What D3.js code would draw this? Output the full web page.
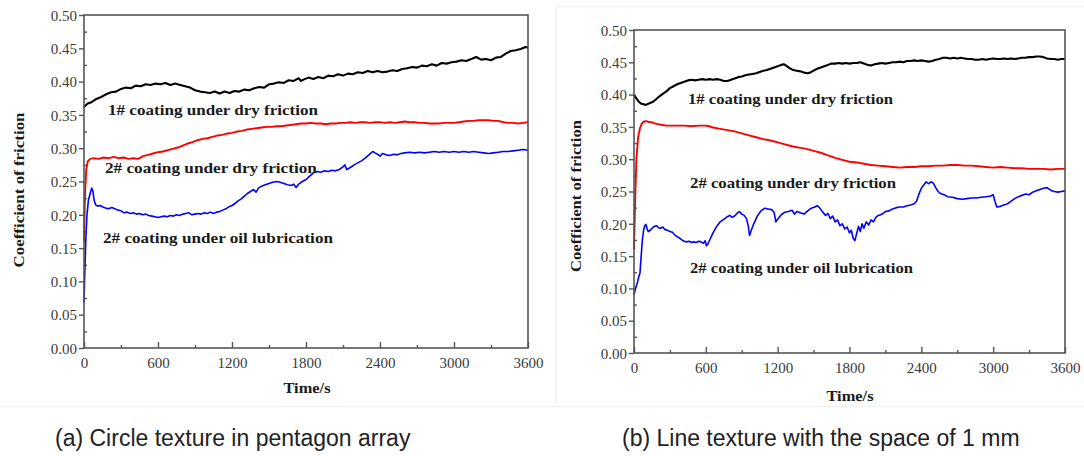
<!DOCTYPE html>
<html>
<head>
<meta charset="utf-8">
<script src="https://cdn.jsdelivr.net/npm/d3@7/dist/d3.min.js"></script>
<style>
  body { margin: 0; background: #fff; }
  svg { display: block; }
  .note { font-family: "Liberation Serif", "Times New Roman", serif; font-weight: bold; fill: #1a1a1a; }
  .caption { font-family: "Liberation Sans", Arial, sans-serif; fill: #222; }
</style>
</head>
<body>
<svg width="1084" height="456"></svg>
<script>
// axis ticks (shared by both panels)
const timeTicks = [0, 600, 1200, 1800, 2400, 3000, 3600];
const timeMinor = [300, 900, 1500, 2100, 2700, 3300];
const cofTicks = [0, 0.05, 0.10, 0.15, 0.20, 0.25, 0.30, 0.35, 0.40, 0.45, 0.50];
const cofMinor = [0.025, 0.075, 0.125, 0.175, 0.225, 0.275, 0.325, 0.375, 0.425, 0.475];

const noteLabels = ["1# coating under dry friction", "2# coating under dry friction", "2# coating under oil lubrication"];
const captions = ["(a) Circle texture in pentagon array", "(b) Line texture with the space of 1 mm"];

// (a) circle texture in pentagon array  -- [time s, coefficient]
const circleDry1 = [[0,.362],[30,.367],[60,.369],[100,.374],[140,.377],[180,.381],[220,.384],[260,.385],[300,.389],[340,.391],[380,.390],[420,.394],[460,.393],[500,.396],[540,.395],[580,.397],[620,.396],[660,.398],[700,.395],[740,.397],[780,.395],[820,.393],[860,.391],[900,.387],[940,.385],[980,.384],[1020,.383],[1060,.385],[1100,.382],[1140,.385],[1180,.383],[1220,.386],[1260,.385],[1300,.388],[1340,.387],[1380,.390],[1420,.392],[1460,.391],[1500,.396],[1540,.397],[1580,.399],[1620,.398],[1660,.402],[1700,.401],[1740,.405],[1760,.401],[1780,.403],[1820,.406],[1860,.404],[1900,.407],[1940,.405],[1980,.409],[2020,.408],[2060,.411],[2100,.409],[2140,.412],[2180,.411],[2220,.414],[2260,.413],[2300,.416],[2340,.414],[2380,.416],[2420,.414],[2460,.415],[2500,.417],[2540,.416],[2580,.419],[2620,.420],[2660,.422],[2700,.421],[2740,.424],[2780,.423],[2820,.426],[2860,.424],[2900,.428],[2940,.427],[2980,.429],[3020,.430],[3060,.432],[3100,.431],[3140,.434],[3180,.437],[3220,.433],[3260,.434],[3300,.432],[3340,.436],[3380,.437],[3420,.442],[3460,.446],[3500,.447],[3540,.449],[3580,.452],[3600,.451]];
const circleDry2 = [[0,.160],[8,.230],[18,.268],[30,.280],[50,.284],[80,.285],[120,.284],[160,.286],[200,.285],[240,.287],[280,.285],[320,.286],[360,.284],[400,.285],[440,.284],[480,.288],[520,.290],[560,.292],[600,.294],[640,.295],[680,.297],[720,.299],[760,.301],[800,.304],[840,.307],[880,.309],[920,.312],[960,.314],[1000,.315],[1040,.317],[1080,.319],[1120,.320],[1160,.322],[1200,.323],[1240,.325],[1280,.326],[1320,.328],[1360,.329],[1400,.330],[1440,.331],[1480,.332],[1520,.332],[1560,.333],[1600,.333],[1640,.334],[1680,.335],[1720,.336],[1760,.337],[1800,.337],[1840,.338],[1880,.337],[1920,.337],[1960,.336],[2000,.337],[2040,.337],[2080,.338],[2120,.338],[2160,.339],[2200,.338],[2240,.339],[2280,.339],[2320,.338],[2360,.339],[2400,.339],[2440,.338],[2480,.339],[2520,.338],[2560,.339],[2600,.340],[2640,.339],[2680,.339],[2720,.338],[2760,.338],[2800,.337],[2840,.337],[2880,.337],[2920,.338],[2960,.338],[3000,.338],[3040,.339],[3080,.340],[3120,.341],[3160,.341],[3200,.342],[3240,.342],[3280,.342],[3320,.341],[3360,.341],[3400,.339],[3440,.338],[3480,.338],[3520,.337],[3560,.338],[3600,.339]];
const circleOil2 = [[0,.068],[6,.110],[14,.160],[24,.200],[36,.222],[50,.232],[62,.240],[72,.236],[82,.222],[95,.215],[110,.213],[130,.214],[150,.212],[175,.210],[200,.209],[225,.211],[250,.209],[275,.207],[300,.206],[325,.203],[350,.204],[375,.202],[400,.203],[425,.201],[450,.202],[475,.200],[500,.201],[525,.199],[550,.198],[575,.197],[600,.196],[625,.197],[650,.198],[675,.197],[700,.199],[725,.198],[750,.200],[775,.199],[800,.201],[825,.202],[850,.203],[875,.200],[900,.201],[925,.202],[950,.201],[975,.203],[1000,.202],[1025,.204],[1050,.202],[1075,.204],[1100,.205],[1125,.207],[1150,.209],[1175,.212],[1200,.214],[1225,.217],[1250,.221],[1275,.224],[1300,.228],[1325,.232],[1350,.235],[1375,.238],[1395,.234],[1415,.240],[1440,.243],[1470,.245],[1500,.247],[1530,.249],[1560,.250],[1590,.249],[1620,.247],[1650,.245],[1680,.244],[1700,.246],[1720,.241],[1740,.246],[1770,.250],[1800,.253],[1830,.258],[1860,.263],[1890,.265],[1920,.264],[1950,.266],[1980,.265],[2010,.267],[2040,.266],[2070,.268],[2100,.272],[2115,.275],[2130,.268],[2160,.271],[2190,.275],[2220,.278],[2250,.281],[2280,.285],[2310,.290],[2340,.295],[2360,.293],[2380,.291],[2400,.288],[2420,.292],[2450,.290],[2480,.289],[2510,.291],[2540,.290],[2570,.292],[2600,.293],[2640,.294],[2680,.293],[2720,.294],[2760,.293],[2800,.294],[2840,.295],[2880,.294],[2920,.295],[2960,.294],[3000,.295],[3040,.294],[3080,.295],[3120,.294],[3160,.295],[3200,.294],[3240,.293],[3280,.292],[3320,.293],[3360,.294],[3400,.295],[3440,.295],[3480,.296],[3520,.297],[3560,.298],[3600,.297]];

// (b) line texture, 1 mm spacing
const lineDry1 = [[0,.400],[20,.394],[40,.389],[60,.386],[80,.385],[100,.384],[120,.386],[150,.388],[180,.392],[210,.397],[240,.401],[270,.405],[300,.410],[330,.413],[360,.416],[390,.418],[420,.420],[450,.422],[480,.423],[510,.422],[540,.423],[570,.424],[600,.423],[630,.424],[660,.423],[690,.424],[720,.423],[750,.421],[780,.421],[810,.423],[840,.425],[870,.427],[900,.428],[930,.430],[960,.431],[990,.432],[1020,.433],[1050,.435],[1080,.437],[1110,.438],[1140,.440],[1170,.442],[1200,.444],[1230,.446],[1250,.447],[1270,.445],[1300,.441],[1330,.438],[1360,.437],[1390,.436],[1420,.434],[1450,.433],[1470,.434],[1500,.437],[1530,.440],[1560,.442],[1590,.444],[1620,.446],[1650,.448],[1680,.448],[1710,.449],[1740,.448],[1770,.449],[1800,.448],[1830,.449],[1860,.449],[1890,.450],[1920,.448],[1950,.446],[1980,.445],[2010,.447],[2040,.448],[2070,.449],[2100,.448],[2130,.449],[2160,.450],[2190,.450],[2220,.451],[2250,.450],[2280,.452],[2310,.452],[2340,.453],[2370,.452],[2400,.453],[2430,.452],[2460,.451],[2490,.452],[2520,.454],[2550,.455],[2580,.457],[2610,.457],[2640,.456],[2670,.457],[2700,.456],[2730,.457],[2760,.456],[2790,.455],[2820,.455],[2850,.454],[2880,.454],[2910,.455],[2940,.454],[2970,.455],[3000,.456],[3030,.455],[3060,.455],[3090,.456],[3120,.455],[3150,.456],[3180,.455],[3210,.456],[3240,.457],[3270,.457],[3300,.458],[3330,.458],[3360,.459],[3390,.459],[3420,.458],[3450,.456],[3480,.455],[3510,.455],[3540,.454],[3570,.455],[3600,.455]];
const lineDry2 = [[0,.160],[10,.240],[20,.300],[35,.335],[50,.348],[65,.355],[80,.358],[100,.359],[120,.358],[150,.357],[180,.355],[210,.354],[240,.353],[270,.352],[300,.352],[360,.352],[420,.352],[480,.351],[540,.352],[600,.352],[630,.351],[660,.349],[720,.347],[780,.345],[840,.343],[900,.340],[960,.337],[1020,.334],[1080,.331],[1140,.329],[1200,.326],[1260,.323],[1320,.320],[1380,.318],[1440,.316],[1500,.313],[1560,.310],[1620,.306],[1680,.302],[1740,.299],[1800,.296],[1860,.295],[1920,.293],[1980,.291],[2040,.290],[2100,.289],[2160,.288],[2220,.287],[2280,.288],[2340,.288],[2400,.289],[2460,.289],[2520,.290],[2580,.290],[2640,.291],[2700,.291],[2760,.290],[2820,.290],[2880,.289],[2940,.288],[3000,.287],[3060,.288],[3120,.287],[3180,.286],[3240,.286],[3300,.285],[3360,.285],[3420,.285],[3480,.284],[3540,.285],[3600,.285]];
const lineOil2 = [[0,.090],[10,.098],[20,.104],[30,.110],[40,.118],[50,.124],[60,.150],[70,.175],[80,.190],[90,.197],[100,.199],[110,.192],[120,.188],[135,.190],[150,.193],[170,.196],[190,.197],[205,.194],[220,.193],[240,.195],[260,.191],[280,.190],[300,.188],[320,.187],[340,.183],[360,.180],[380,.178],[400,.175],[420,.173],[440,.172],[460,.173],[480,.171],[500,.172],[520,.171],[540,.173],[560,.172],[580,.170],[595,.174],[605,.166],[615,.168],[640,.178],[660,.186],[690,.196],[720,.203],[750,.207],[780,.211],[800,.213],[820,.210],[840,.212],[860,.216],[880,.219],[900,.215],[920,.213],[940,.208],[955,.196],[965,.182],[980,.190],[1000,.200],[1030,.212],[1060,.220],[1090,.224],[1120,.223],[1150,.222],[1170,.218],[1185,.203],[1200,.207],[1230,.214],[1260,.218],[1290,.219],[1320,.221],[1340,.215],[1360,.219],[1390,.217],[1420,.215],[1450,.220],[1480,.224],[1510,.226],[1530,.228],[1550,.225],[1570,.220],[1600,.213],[1620,.216],[1640,.208],[1660,.212],[1680,.203],[1700,.206],[1720,.197],[1740,.200],[1760,.192],[1780,.195],[1800,.186],[1815,.190],[1830,.178],[1845,.174],[1860,.185],[1875,.196],[1890,.188],[1905,.200],[1920,.193],[1940,.203],[1960,.198],[1980,.206],[2000,.203],[2020,.210],[2040,.213],[2060,.214],[2080,.216],[2100,.219],[2130,.220],[2160,.223],[2190,.225],[2220,.226],[2250,.226],[2280,.228],[2310,.229],[2340,.231],[2360,.235],[2380,.246],[2400,.255],[2420,.260],[2440,.265],[2460,.262],[2480,.265],[2500,.263],[2520,.256],[2540,.250],[2560,.247],[2590,.245],[2620,.242],[2660,.241],[2700,.239],[2740,.238],[2780,.239],[2820,.240],[2860,.240],[2900,.241],[2940,.242],[2980,.243],[3000,.245],[3015,.235],[3030,.226],[3060,.227],[3090,.229],[3120,.231],[3150,.235],[3180,.239],[3210,.242],[3240,.244],[3270,.246],[3300,.245],[3330,.249],[3360,.251],[3390,.253],[3420,.255],[3450,.256],[3480,.252],[3510,.250],[3540,.249],[3570,.250],[3600,.251]];

const colors = ["#000000", "#ff0000", "#0000ff"];
const widths = [2.1, 1.9, 1.6];
const serif = '"Liberation Serif", "Times New Roman", serif';

let svg = d3.select("svg");
svg.append("rect").attr("width", 1084).attr("height", 456).attr("fill", "#fff");

// faint frame left over from the source figure
svg.append("line").attr("x1", 0).attr("x2", 1084).attr("y1", 406.5).attr("y2", 406.5)
    .attr("stroke", "#f2f2f2").attr("stroke-width", 1.5);
svg.append("path").attr("d", "M556,406 V6.5 H1084")
    .attr("fill", "none").attr("stroke", "#f2f2f2").attr("stroke-width", 1.5);

function drawPanel(p) {
    let x = d3.scaleLinear().domain([0, 3600]).range([p.left, p.right]);
    let y = d3.scaleLinear().domain([0, 0.5]).range([p.bottom, p.top]);
    let g = svg.append("g");

    // minor ticks (inside)
    g.append("g").attr("transform", "translate(0," + p.bottom + ")")
        .call(d3.axisBottom(x).tickValues(timeMinor).tickSize(-3).tickFormat(""));
    g.append("g").attr("transform", "translate(" + p.left + ",0)")
        .call(d3.axisLeft(y).tickValues(cofMinor).tickSize(-3).tickFormat(""));

    // major ticks
    let xa = g.append("g").attr("transform", "translate(0," + p.bottom + ")")
        .call(d3.axisBottom(x).tickValues(timeTicks).tickSize(-6).tickSizeOuter(0).tickPadding(0)
            .tickFormat(d3.format("d")));
    xa.selectAll(".tick text").attr("y", 20).attr("dy", 0);

    let ya = g.append("g").attr("transform", "translate(" + p.left + ",0)")
        .call(d3.axisLeft(y).tickValues(cofTicks).tickSize(5).tickSizeOuter(0).tickPadding(2)
            .tickFormat(d3.format(".2f")));
    ya.selectAll(".tick text").attr("dy", "0.35em");

    g.selectAll(".tick text")
        .style("font-family", serif)
        .style("font-size", "15px")
        .attr("fill", "#3a3a3a");
    g.selectAll(".domain").remove();
    g.selectAll(".tick line").attr("stroke", "#555").attr("stroke-width", 1.4);

    let line = d3.line().x(d => x(d[0])).y(d => y(d[1]));
    p.series.forEach((s, i) => {
        g.append("path").datum(s)
            .attr("fill", "none")
            .attr("stroke", colors[i])
            .attr("stroke-width", widths[i])
            .attr("stroke-linejoin", "round")
            .attr("d", line);
    });

    // frame
    g.append("rect")
        .attr("x", p.left).attr("y", p.top)
        .attr("width", p.right - p.left).attr("height", p.bottom - p.top)
        .attr("fill", "none").attr("stroke", "#555").attr("stroke-width", 1.6);

    // curve labels
    p.notes.forEach((n, i) => {
        g.append("text").attr("class", "note")
            .attr("x", x(n[0])).attr("y", y(n[1]))
            .attr("textLength", n[2]).attr("lengthAdjust", "spacingAndGlyphs")
            .style("font-size", "15px")
            .text(noteLabels[i]);
    });

    // axis titles
    g.append("text").attr("class", "note")
        .attr("x", p.timeX).attr("y", p.timeY)
        .attr("text-anchor", "middle")
        .attr("textLength", 47).attr("lengthAdjust", "spacingAndGlyphs")
        .style("font-size", "15px")
        .text("Time/s");
    g.append("text").attr("class", "note")
        .attr("transform", "translate(" + p.cofX + "," + p.cofY + ") rotate(-90)")
        .attr("text-anchor", "middle")
        .attr("textLength", p.cofLen).attr("lengthAdjust", "spacingAndGlyphs")
        .style("font-size", "15px")
        .text("Coefficient of friction");
}

drawPanel({
    left: 84, right: 528, top: 15, bottom: 348,
    series: [circleDry1, circleDry2, circleOil2],
    notes: [[195, 0.350, 210], [170, 0.2625, 212], [154, 0.158, 230]],
    timeX: 307, timeY: 393, cofX: 24, cofY: 190, cofLen: 155
});

drawPanel({
    left: 634, right: 1065, top: 30, bottom: 353,
    series: [lineDry1, lineDry2, lineOil2],
    notes: [[451, 0.385, 205], [468, 0.255, 206], [468, 0.124, 223]],
    timeX: 850, timeY: 401, cofX: 581, cofY: 196, cofLen: 152
});

svg.append("text").attr("class", "caption")
    .attr("x", 55).attr("y", 446)
    .style("font-size", "23px")
    .text(captions[0]);
svg.append("text").attr("class", "caption")
    .attr("x", 622).attr("y", 446)
    .style("font-size", "23px")
    .text(captions[1]);
</script>
</body>
</html>
